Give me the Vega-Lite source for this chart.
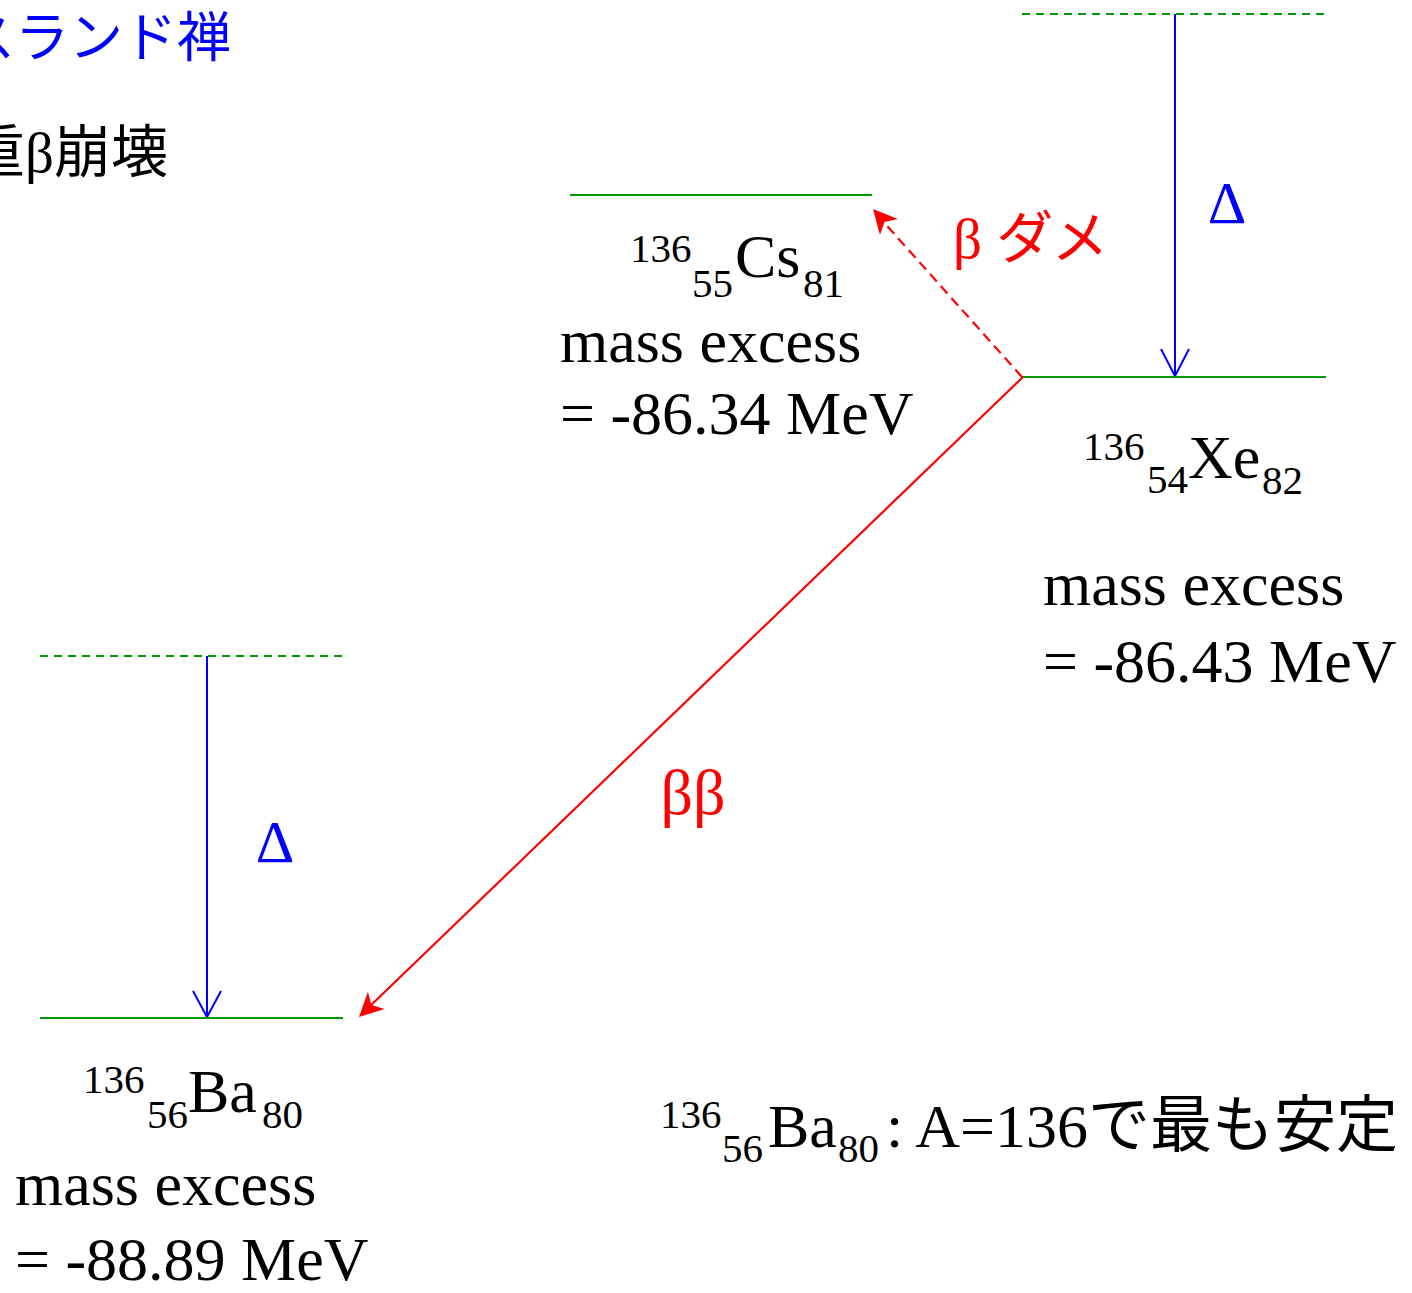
{
  "$schema": "https://vega.github.io/schema/vega-lite/v6.json",
  "width": 1412,
  "height": 1293,
  "autosize": "none",
  "padding": 0,
  "background": "white",
  "config": {"view": {"stroke": null}},
  "encoding": {
    "x": {"field": "x", "type": "quantitative", "scale": {"domain": [0, 1412], "nice": false, "zero": false}, "axis": null},
    "y": {"field": "y", "type": "quantitative", "scale": {"domain": [0, 1293], "nice": false, "zero": false, "reverse": true}, "axis": null}
  },
  "layer": [
    {
      "data": {"values": [
        {"x": 1022, "y": 377, "x2": 1326, "y2": 377},
        {"x": 570, "y": 195, "x2": 872, "y2": 195},
        {"x": 40, "y": 1018, "x2": 343, "y2": 1018}
      ]},
      "mark": {"type": "rule", "color": "#009900", "strokeWidth": 2},
      "encoding": {"x2": {"field": "x2"}, "y2": {"field": "y2"}}
    },
    {
      "data": {"values": [
        {"x": 1022, "y": 14, "x2": 1326, "y2": 14},
        {"x": 40, "y": 656, "x2": 343, "y2": 656}
      ]},
      "mark": {"type": "rule", "color": "#009900", "strokeWidth": 2, "strokeDash": [8, 6]},
      "encoding": {"x2": {"field": "x2"}, "y2": {"field": "y2"}}
    },
    {
      "data": {"values": [
        {"x": 1175, "y": 14, "x2": 1175, "y2": 376},
        {"x": 1161, "y": 349, "x2": 1175, "y2": 376},
        {"x": 1189, "y": 349, "x2": 1175, "y2": 376},
        {"x": 207, "y": 656, "x2": 207, "y2": 1017},
        {"x": 193, "y": 991, "x2": 207, "y2": 1017},
        {"x": 221, "y": 991, "x2": 207, "y2": 1017}
      ]},
      "mark": {"type": "rule", "color": "#0000ff", "strokeWidth": 2},
      "encoding": {"x2": {"field": "x2"}, "y2": {"field": "y2"}}
    },
    {
      "data": {"values": [
        {"x": 1023, "y": 377, "x2": 367, "y2": 1009}
      ]},
      "mark": {"type": "rule", "color": "#ff0000", "strokeWidth": 2.2},
      "encoding": {"x2": {"field": "x2"}, "y2": {"field": "y2"}}
    },
    {
      "data": {"values": [
        {"x": 1022, "y": 377, "x2": 880, "y2": 218}
      ]},
      "mark": {"type": "rule", "color": "#ff0000", "strokeWidth": 2.2, "strokeDash": [10, 6]},
      "encoding": {"x2": {"field": "x2"}, "y2": {"field": "y2"}}
    },
    {
      "data": {"values": [{"x": 359, "y": 1017}]},
      "mark": {"type": "point", "shape": "M0,0 L-1,-0.5 L-0.72,0 L-1,0.5 Z", "size": 2304, "filled": true, "fill": "#ff0000", "strokeWidth": 0, "opacity": 1, "angle": 136}
    },
    {
      "data": {"values": [{"x": 873, "y": 209}]},
      "mark": {"type": "point", "shape": "M0,0 L-1,-0.5 L-0.72,0 L-1,0.5 Z", "size": 2304, "filled": true, "fill": "#ff0000", "strokeWidth": 0, "opacity": 1, "angle": 228.4}
    },
    {
      "data": {"values": [{"x": 231, "y": 57, "label": "スランド禅"}]},
      "mark": {"type": "text", "font": "Liberation Serif, Noto Sans CJK JP", "fontSize": 54, "color": "#0000ff", "align": "right", "baseline": "alphabetic"},
      "encoding": {"text": {"field": "label"}}
    },
    {
      "data": {"values": [{"x": 168, "y": 172, "label": "二重β崩壊"}]},
      "mark": {"type": "text", "font": "Liberation Serif, Noto Sans CJK JP", "fontSize": 57, "color": "#000000", "align": "right", "baseline": "alphabetic"},
      "encoding": {"text": {"field": "label"}}
    },
    {
      "data": {"values": [
        {"x": 735, "y": 277, "label": "Cs"},
        {"x": 1188, "y": 478, "label": "Xe"},
        {"x": 188, "y": 1112, "label": "Ba"},
        {"x": 768, "y": 1147, "label": "Ba"},
        {"x": 886, "y": 1147, "label": ": A=136で最も安定"},
        {"x": 560, "y": 362, "label": "mass excess"},
        {"x": 560, "y": 434, "label": "= -86.34 MeV"},
        {"x": 1043, "y": 605, "label": "mass excess"},
        {"x": 1043, "y": 682, "label": "= -86.43 MeV"},
        {"x": 15, "y": 1205, "label": "mass excess"},
        {"x": 15, "y": 1280, "label": "= -88.89 MeV"}
      ]},
      "mark": {"type": "text", "font": "Liberation Serif, Noto Sans CJK JP", "fontSize": 62, "color": "#000000", "align": "left", "baseline": "alphabetic"},
      "encoding": {"text": {"field": "label"}}
    },
    {
      "data": {"values": [
        {"x": 630, "y": 262, "label": "136"},
        {"x": 692, "y": 297, "label": "55"},
        {"x": 803, "y": 297, "label": "81"},
        {"x": 1083, "y": 460, "label": "136"},
        {"x": 1147, "y": 493, "label": "54"},
        {"x": 1262, "y": 494, "label": "82"},
        {"x": 83, "y": 1093, "label": "136"},
        {"x": 147, "y": 1128, "label": "56"},
        {"x": 262, "y": 1128, "label": "80"},
        {"x": 660, "y": 1128, "label": "136"},
        {"x": 722, "y": 1162, "label": "56"},
        {"x": 838, "y": 1162, "label": "80"}
      ]},
      "mark": {"type": "text", "font": "Liberation Serif", "fontSize": 41, "color": "#000000", "align": "left", "baseline": "alphabetic"},
      "encoding": {"text": {"field": "label"}}
    },
    {
      "data": {"values": [
        {"x": 1227, "y": 223, "label": "Δ"},
        {"x": 275, "y": 862, "label": "Δ"}
      ]},
      "mark": {"type": "text", "font": "Liberation Serif", "fontSize": 60, "color": "#0000ff", "align": "center", "baseline": "alphabetic"},
      "encoding": {"text": {"field": "label"}}
    },
    {
      "data": {"values": [
        {"x": 693, "y": 814, "label": "ββ"}
      ]},
      "mark": {"type": "text", "font": "Liberation Serif", "fontSize": 64, "color": "#ff0000", "align": "center", "baseline": "alphabetic"},
      "encoding": {"text": {"field": "label"}}
    },
    {
      "data": {"values": [
        {"x": 953, "y": 258, "label": "β ダメ"}
      ]},
      "mark": {"type": "text", "font": "Liberation Serif, Noto Sans CJK JP", "fontSize": 57, "color": "#ff0000", "align": "left", "baseline": "alphabetic"},
      "encoding": {"text": {"field": "label"}}
    }
  ]
}
